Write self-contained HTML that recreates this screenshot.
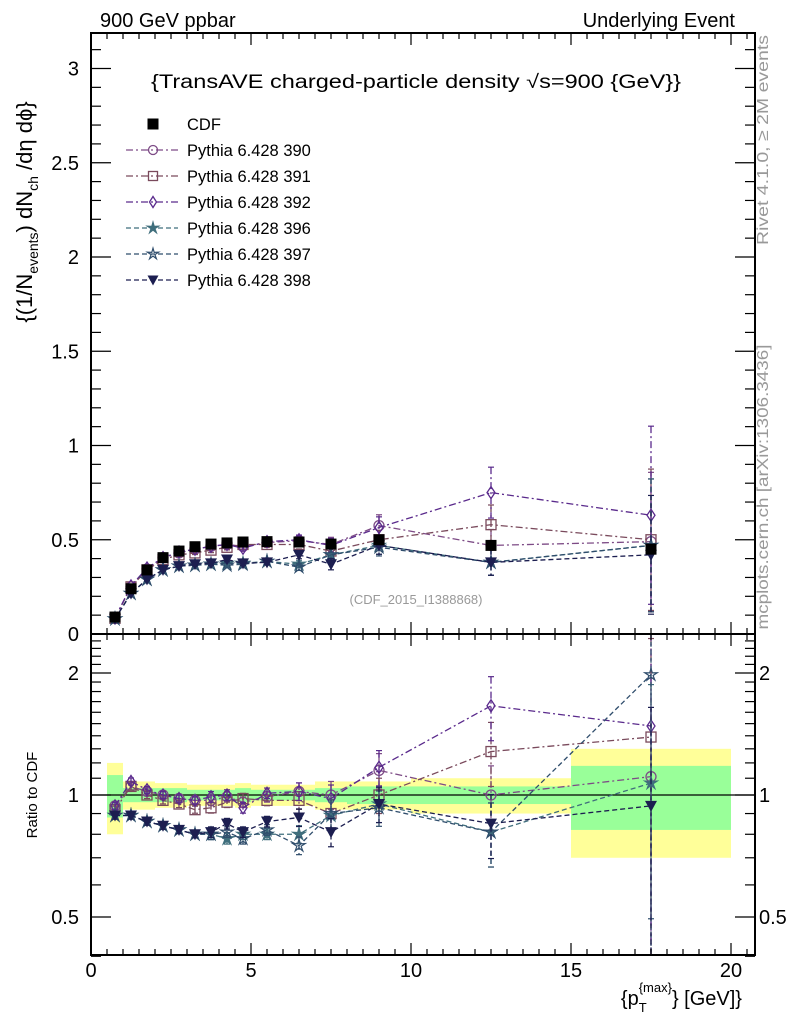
<!DOCTYPE html>
<html><head><meta charset="utf-8"><style>
body{margin:0;background:#fff;}
svg{display:block;font-family:"Liberation Sans",sans-serif;}
</style></head><body>
<svg id="c" width="786" height="1024" viewBox="0 0 786 1024" xmlns="http://www.w3.org/2000/svg">
<rect width="786" height="1024" fill="#fff"/>
<g id="bands"></g>
<g id="grid"></g>
<g id="series"></g>
<g id="frame" fill="none" stroke="#000" stroke-width="2">
<rect x="91" y="33" width="664" height="601"/>
<rect x="91" y="634" width="664" height="321"/>
</g>
<g id="ticks" stroke="#000" stroke-width="1.2"></g>
<g id="labels" font-size="20" fill="#000"></g>
<text x="100" y="27" font-size="20">900 GeV ppbar</text>
<text x="735" y="27" font-size="20" text-anchor="end">Underlying Event</text>
<text x="416" y="88" font-size="19" text-anchor="middle" textLength="530" lengthAdjust="spacingAndGlyphs">{TransAVE charged-particle density √s=900 {GeV}}</text>
<text x="416" y="604" font-size="13" fill="#999" text-anchor="middle">(CDF_2015_I1388868)</text>
<text transform="translate(768,140) rotate(-90)" font-size="16" fill="#999" text-anchor="middle" textLength="210" lengthAdjust="spacingAndGlyphs">Rivet 4.1.0, ≥ 2M events</text>
<text transform="translate(768,487) rotate(-90)" font-size="16" fill="#999" text-anchor="middle" textLength="285" lengthAdjust="spacingAndGlyphs">mcplots.cern.ch [arXiv:1306.3436]</text>
<text transform="translate(32,212) rotate(-90)" font-size="22" text-anchor="middle">{(1/N<tspan font-size="14" dy="6">events</tspan><tspan dy="-6">) dN</tspan><tspan font-size="14" dy="6">ch</tspan><tspan dy="-6"> /dη  dϕ}</tspan></text>
<text transform="translate(37,795) rotate(-90)" font-size="15" text-anchor="middle">Ratio to CDF</text>
<text x="742" y="1005" font-size="20" text-anchor="end">{p<tspan font-size="13" dy="7">T</tspan><tspan font-size="13" dx="-8" dy="-20">{max}</tspan><tspan dy="13">} [GeV]}</tspan></text>
<g id="legend" font-size="16.5"></g>
</svg>
<script>
const xCenters=[0.75,1.25,1.75,2.25,2.75,3.25,3.75,4.25,4.75,5.5,6.5,7.5,9,12.5,17.5];
const cdfVals=[0.09,0.24,0.34,0.405,0.44,0.463,0.477,0.483,0.488,0.49,0.488,0.477,0.5,0.47,0.45];
const v390=[0.085,0.25,0.345,0.405,0.43,0.45,0.465,0.475,0.465,0.485,0.495,0.475,0.575,0.47,0.49];
const v391=[0.083,0.25,0.34,0.395,0.42,0.43,0.445,0.46,0.475,0.475,0.475,0.44,0.5,0.58,0.5];
const v392=[0.085,0.255,0.35,0.405,0.435,0.45,0.465,0.475,0.455,0.49,0.5,0.47,0.565,0.75,0.63];
const v396=[0.08,0.215,0.29,0.34,0.36,0.365,0.37,0.375,0.375,0.385,0.37,0.42,0.47,0.38,0.47];
const v397=[0.08,0.215,0.29,0.34,0.36,0.365,0.37,0.365,0.37,0.385,0.355,0.42,0.46,0.38,0.47];
const v398=[0.08,0.215,0.29,0.34,0.36,0.37,0.375,0.395,0.375,0.38,0.42,0.37,0.47,0.38,0.42];
const r390=[0.94,1.05,1.02,1.0,0.98,0.97,0.97,0.99,0.96,0.99,1.02,1.0,1.15,1.0,1.11];
const r391=[0.92,1.05,1.0,0.97,0.95,0.92,0.93,0.96,0.98,0.97,0.97,0.9,1.0,1.28,1.39];
const r392=[0.94,1.08,1.03,1.0,0.98,0.97,0.99,1.0,0.93,1.01,1.02,0.98,1.17,1.66,1.48];
const r396=[0.89,0.89,0.86,0.84,0.82,0.8,0.8,0.78,0.8,0.8,0.8,0.89,0.95,0.81,1.07];
const r397=[0.89,0.89,0.86,0.84,0.82,0.8,0.8,0.81,0.78,0.82,0.75,0.9,0.93,0.81,1.98];
const r398=[0.89,0.89,0.86,0.84,0.82,0.8,0.81,0.85,0.81,0.86,0.88,0.81,0.95,0.85,0.94];
const relErr=[0.02,0.02,0.02,0.02,0.02,0.02,0.03,0.03,0.03,0.03,0.05,0.08,0.1,0.18,0.75];
const bandEdges=[0.5,1,1.5,2,2.5,3,3.5,4,4.5,5,6,7,8,10,15,20];
const bandYellow=[0.2,0.08,0.08,0.07,0.07,0.06,0.06,0.06,0.07,0.06,0.06,0.08,0.08,0.1,0.3];
const bandGreen=[0.12,0.04,0.04,0.04,0.04,0.03,0.03,0.03,0.04,0.03,0.03,0.04,0.05,0.05,0.18];
const xTickLabels=[0,5,10,15,20];
const yTickLabels=[0,0.5,1,1.5,2,2.5,3];
const rTickLabels=[0.5,1,2];

const NS="http://www.w3.org/2000/svg";
const X=v=>91+32*v;
const Y=v=>634-188.5*v;
const R=v=>795-122*Math.log2(v);
function mk(t,a,p){const e=document.createElementNS(NS,t);for(const k in a)e.setAttribute(k,a[k]);(p||document.getElementById('series')).appendChild(e);return e;}

const bg=document.getElementById('bands');
for(let i=0;i<bandYellow.length;i++){
 const x0=X(bandEdges[i]),w=X(bandEdges[i+1])-x0;
 const y=mk('rect',{x:x0,y:R(1+bandYellow[i]),width:w,height:R(1-bandYellow[i])-R(1+bandYellow[i]),fill:'#ffff99'},bg);
 
 
 const g=mk('rect',{x:x0,y:R(1+bandGreen[i]),width:w,height:R(1-bandGreen[i])-R(1+bandGreen[i]),fill:'#99ff99'},bg);
 
 
}
const one=mk('line',{x1:91,x2:755,y1:R(1),y2:R(1),stroke:'#000','stroke-width':1.2},bg);



const tg=document.getElementById('ticks'),lg=document.getElementById('labels');
for(let v=0;v<=20.5;v+=0.5){const big=v%5===0;const L=big?12:6;
 for(const [yb,yt] of [[634,33],[955,634]]){mk('line',{x1:X(v),x2:X(v),y1:yb,y2:yb-L},tg);mk('line',{x1:X(v),x2:X(v),y1:yt,y2:yt+L},tg);}}
for(let v=0;v<=3.15;v+=0.1){const big=Math.abs(v*2-Math.round(v*2))<1e-6;const L=big?20:10;
 mk('line',{x1:91,x2:91+L,y1:Y(v),y2:Y(v)},tg);mk('line',{x1:755,x2:755-L,y1:Y(v),y2:Y(v)},tg);}
for(let v=0.4;v<=2.5;v+=0.1){const big=rTickLabels.some(t=>Math.abs(t-v)<1e-6);const L=big?20:10;
 mk('line',{x1:91,x2:91+L,y1:R(v),y2:R(v)},tg);mk('line',{x1:755,x2:755-L,y1:R(v),y2:R(v)},tg);}
xTickLabels.forEach(v=>{const t=mk('text',{x:X(v),y:977,'text-anchor':'middle'},lg);t.textContent=v;
 
 });
yTickLabels.forEach(v=>{const t=mk('text',{x:79,y:Y(v)+7,'text-anchor':'end'},lg);t.textContent=v;
 
 });
rTickLabels.forEach(v=>{for(const [x,a] of [[79,'end'],[759,'start']]){const t=mk('text',{x:x,y:R(v)+7,'text-anchor':a},lg);t.textContent=v;
 
 }});

function marker(p,kind,x,y,c,s){
 s=s||5;
 if(kind==='sq')return mk('rect',{x:x-5.5,y:y-5.5,width:11,height:11,fill:'#000'},p);
 if(kind==='circ')return mk('circle',{cx:x,cy:y,r:s,fill:'none',stroke:c,'stroke-width':1.3},p);
 if(kind==='osq')return mk('rect',{x:x-s,y:y-s,width:2*s,height:2*s,fill:'none',stroke:c,'stroke-width':1.3},p);
 if(kind==='dia')return mk('path',{d:`M${x},${y-s-1}L${x+s-1},${y}L${x},${y+s+1}L${x-s+1},${y}Z`,fill:'none',stroke:c,'stroke-width':1.3},p);
 if(kind==='star'||kind==='ostar'){let d='';for(let i=0;i<10;i++){const r=i%2?s*0.45:s*1.3,a=-Math.PI/2+i*Math.PI/5;d+=(i?'L':'M')+(x+r*Math.cos(a)).toFixed(1)+','+(y+r*Math.sin(a)).toFixed(1);}
  return mk('path',{d:d+'Z',fill:kind==='star'?c:'none',stroke:c,'stroke-width':1.2},p);}
 if(kind==='tri')return mk('path',{d:`M${x-s-1},${y-s}L${x+s+1},${y-s}L${x},${y+s+1}Z`,fill:c},p);
}
const seriesDefs=[
 {name:'390',vals:v390,rat:r390,kind:'circ',c:'#7d4b86',dash:'7,3,2,3'},
 {name:'391',vals:v391,rat:r391,kind:'osq',c:'#7a4a5c',dash:'7,3,2,3'},
 {name:'392',vals:v392,rat:r392,kind:'dia',c:'#5a2a8c',dash:'7,3,2,3'},
 {name:'396',vals:v396,rat:r396,kind:'star',c:'#3f6e7c',dash:'5,3'},
 {name:'397',vals:v397,rat:r397,kind:'ostar',c:'#2f4d6c',dash:'5,3'},
 {name:'398',vals:v398,rat:r398,kind:'tri',c:'#1c1e50',dash:'5,3'}];
const sg=document.getElementById('series');
function clampR(v){return Math.max(0.402,Math.min(2.5,v));}
seriesDefs.forEach(s=>{
 const g=mk('g',{},sg);
 
 
 for(const [vals,F] of [[s.vals,Y],[s.rat,v=>R(clampR(v))]]){
  const isR=vals===s.rat;
  mk('polyline',{points:xCenters.map((x,i)=>X(x)+','+F(vals[i])).join(' '),fill:'none',stroke:s.c,'stroke-width':1.3,'stroke-dasharray':s.dash},g);
  xCenters.forEach((x,i)=>{const e=relErr[i]*vals[i];
   const y1=isR?R(clampR(vals[i]+e)):Y(vals[i]+e),y2=isR?R(clampR(Math.max(vals[i]-e,0.01))):Y(Math.max(vals[i]-e,0));
   mk('line',{x1:X(x),x2:X(x),y1:y1,y2:y2,stroke:s.c,'stroke-width':1.3,'stroke-dasharray':s.dash},g);
   mk('line',{x1:X(x)-3,x2:X(x)+3,y1:y1,y2:y1,stroke:s.c,'stroke-width':1.2},g);
   mk('line',{x1:X(x)-3,x2:X(x)+3,y1:y2,y2:y2,stroke:s.c,'stroke-width':1.2},g);
   const m=marker(g,s.kind,X(x),F(vals[i]),s.c);
   
   });
 }
});
const dg=mk('g',{},sg);


xCenters.forEach((x,i)=>{const m=marker(dg,'sq',X(x),Y(cdfVals[i]),'#000');
 
 });

const leg=document.getElementById('legend');
const cdfL=mk('g',{},leg);


marker(cdfL,'sq',153,124,'#000');
const ct=mk('text',{x:187,y:130},cdfL);ct.textContent='CDF';
seriesDefs.forEach((s,i)=>{const y=150+26*i;const g=mk('g',{},leg);
 
 
 mk('line',{x1:126,x2:178,y1:y,y2:y,stroke:s.c,'stroke-width':1.2,'stroke-dasharray':s.dash},g);
 marker(g,s.kind,153,y,s.c,4.5);
 const t=mk('text',{x:187,y:y+6},g);t.textContent='Pythia 6.428 '+s.name;});
</script>
</body></html>
